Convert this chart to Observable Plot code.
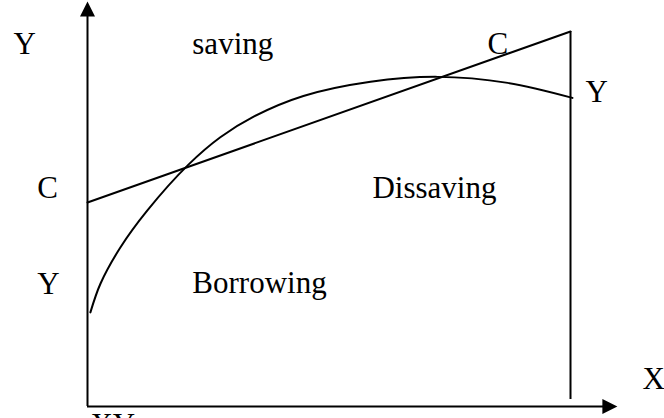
<!DOCTYPE html>
<html>
<head>
<meta charset="utf-8">
<script src="https://cdn.jsdelivr.net/npm/d3@7"></script>
<script src="https://cdn.jsdelivr.net/npm/@observablehq/plot@0.6"></script>
<style>
  html, body { margin: 0; padding: 0; background: #fff; }
  #chart svg { display: block; }
</style>
</head>
<body>
<div id="chart"></div>
<script>
// Income (Y) curve over the life cycle: rises steeply, peaks, then declines
const incomeX = [0.06, 0.27, 0.68, 1.24, 2.09, 2.75, 3.44, 4.47, 5.86, 7.25, 8.70, 10.04];
const incomeY = [2.51, 3.28, 4.24, 5.23, 6.45, 7.18, 7.73, 8.28, 8.66, 8.79, 8.63, 8.23];

// Consumption (C) line: steady upward path
const consX = [0, 10];
const consY = [5.44, 10];

// End of life: vertical boundary
const endX = 10;
const endY = [0.19, 10];

// Axis extents (arrow tips)
const axisTopY = 10.8;
const axisRightX = 10.97;

// Text labels
const labelText = ["Y", "saving", "C", "Y", "C", "Dissaving", "Y", "Borrowing", "X", "XY"];
const labelX    = [-1.53, 2.17, 8.28, 10.31, -1.04, 5.90, -1.04, 2.17, 11.49, 0.06];
const labelY    = [9.41, 9.41, 9.41, 8.13, 5.57, 5.57, 3.01, 3.04, 0.48, -0.75];

const income = incomeX.map((x, i) => ({x, y: incomeY[i]}));
const consumption = consX.map((x, i) => ({x, y: consY[i]}));
const labels = labelText.map((t, i) => ({t, x: labelX[i], y: labelY[i]}));

// Filled arrowhead, tip at the anchor point, pointing up
const arrowHead = {
  draw(context) {
    context.moveTo(0, 0);
    context.lineTo(7.5, 15);
    context.lineTo(-7.5, 15);
    context.closePath();
  }
};

const chart = Plot.plot({
  width: 664,
  height: 418,
  marginLeft: 87,
  marginRight: 94,
  marginTop: 31,
  marginBottom: 12,
  x: {domain: [0, 10], axis: null},
  y: {domain: [0, 10], axis: null},
  style: {background: "#fff", overflow: "visible"},
  marks: [
    // axes
    Plot.ruleX([0], {y1: 0, y2: axisTopY - 0.2, stroke: "#000", strokeWidth: 2}),
    Plot.ruleY([0], {x1: 0, x2: axisRightX - 0.2, stroke: "#000", strokeWidth: 2}),
    Plot.dot([{x: 0, y: axisTopY}], {x: "x", y: "y", symbol: arrowHead, fill: "#000", stroke: null, r: 5}),
    Plot.dot([{x: axisRightX, y: 0}], {x: "x", y: "y", symbol: arrowHead, rotate: 90, fill: "#000", stroke: null, r: 5}),
    // end-of-life boundary
    Plot.ruleX([endX], {y1: endY[0], y2: endY[1], stroke: "#000", strokeWidth: 2}),
    // consumption line
    Plot.line(consumption, {x: "x", y: "y", stroke: "#000", strokeWidth: 2}),
    // income curve
    Plot.line(income, {x: "x", y: "y", curve: "catmull-rom", stroke: "#000", strokeWidth: 2}),
    // labels
    Plot.text(labels, {
      x: "x", y: "y", text: "t",
      textAnchor: "start", lineAnchor: "bottom",
      fontSize: 31, fontFamily: "Liberation Serif", fill: "#000"
    })
  ]
});

document.getElementById("chart").appendChild(chart);
</script>
</body>
</html>
